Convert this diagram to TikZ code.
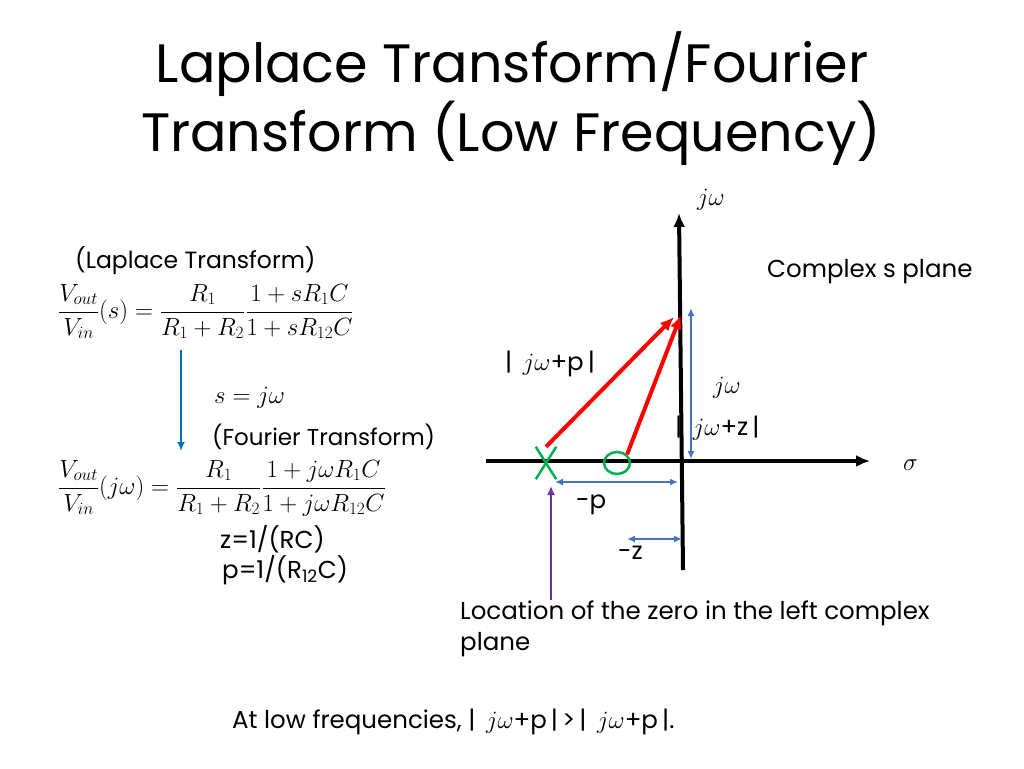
\documentclass[tikz,border=0pt]{standalone}
\usepackage{fontspec}
\setmainfont{Poppins}
\usepackage{tikz}
\usetikzlibrary{arrows.meta,positioning,calc,shapes.geometric,shapes.misc}

\definecolor{arrblue}{RGB}{0,112,192}
\definecolor{dimblue}{RGB}{68,114,196}
\definecolor{zgreen}{RGB}{0,176,80}
\definecolor{locpurple}{RGB}{112,48,160}

\tikzset{
  txt/.style={anchor=base west, inner sep=0pt, font=\fontsize{24.5}{28}\selectfont},
  eq/.style={anchor=base west, inner sep=0pt, font=\fontsize{26}{30}\selectfont},
  axis/.style={line width=4pt, -{Latex[length=14pt,width=12pt]}},
  vec/.style={line width=4pt, red, -{Latex[length=14pt,width=12pt]}},
  dim/.style={line width=1.5pt, dimblue, {Latex[length=8pt,width=7pt]}-{Latex[length=8pt,width=7pt]}},
}

\begin{document}
\begin{tikzpicture}[x=1pt, y=-1pt]
  \useasboundingbox (0,0) rectangle (1024,768);
  \node (t1) at (512,82) [anchor=base, inner sep=0pt, font=\fontsize{54}{66}\selectfont] {Laplace Transform/Fourier};
  \node (t2) at (511,151) [anchor=base, inner sep=0pt, font=\fontsize{54}{66}\selectfont] {Transform (Low Frequency)};
  % left column
  \node (lap) at (75,268) [txt, font=\fontsize{23.5}{28}\selectfont] {(Laplace Transform)};
  \node (eqs) at (58,318) [eq] {$\displaystyle \frac{V_{out}}{V_{in}}(s)=\frac{R_1}{R_1+R_2}\frac{1+sR_1C}{1+sR_{12}C}$};
  \coordinate (d1) at (181,350);
  \coordinate (d2) at (181,451);
  \draw[line width=2.5pt, arrblue, -{Latex[length=9pt,width=8pt]}] (d1) -- (d2);
  \node (sub) at (214,403) [eq] {$s=j\omega$};
  \node (fou) at (212,445) [txt, font=\fontsize{23}{28}\selectfont] {(Fourier Transform)};
  \node (eqw) at (58,494) [eq] {$\displaystyle \frac{V_{out}}{V_{in}}(j\omega)=\frac{R_1}{R_1+R_2}\frac{1+j\omega R_1C}{1+j\omega R_{12}C}$};
  \node (zz) at (220,548) [txt] {z=1/(RC)};
  \node (pp) at (222,578) [txt] {p=1/(R\textsubscript{12}C)};
  % s plane
  \coordinate (xl) at (486,461);
  \coordinate (xr) at (870,461);
  \coordinate (yb) at (683,570);
  \coordinate (yt) at (679,213);
  \draw[axis] (xl) -- (xr);
  \draw[axis] (yb) -- (yt);
  \node (jwt) at (697,205) [eq] {$j\omega$};
  \node (sig) at (903,470) [eq] {$\sigma$};
  \node (cplx) at (767,277) [txt] {Complex s plane};
  \node (pole) at (546,463) [cross out, draw=zgreen, line width=2.5pt, minimum width=18pt, minimum height=30pt, inner sep=0pt] {};
  \node (zero) at (617,463) [ellipse, draw=zgreen, line width=2.5pt, minimum width=26pt, minimum height=22pt, inner sep=0pt] {};
  \coordinate (tipp) at (674,317);
  \coordinate (tipz) at (681,315);
  \draw[vec] (pole.north) -- (tipp);
  \draw[vec] (zero.north east) -- (tipz);
  \node (lp) at (505,370) [txt] {|\, $j\omega$+p\,|};
  \coordinate (wb) at (691,459);
  \coordinate (wt) at (691,308);
  \draw[dim] (wb) -- (wt);
  \node (jw) at (713,393) [eq] {$j\omega$};
  \node (lz) at (675,435) [txt] {|\, $j\omega$+z\,|};
  \coordinate (pa) at (555,482);
  \coordinate (pb) at (678,482);
  \draw[dim] (pa) -- (pb);
  \node (mp) at (576,508) [txt] {-p};
  \coordinate (za) at (627,539);
  \coordinate (zb) at (682,539);
  \draw[dim] (za) -- (zb);
  \node (mz) at (618,559) [txt] {-z};
  \coordinate (lb) at (551,600);
  \coordinate (lt) at (551,486);
  \draw[line width=2.5pt, locpurple, -{Latex[length=9pt,width=8pt]}] (lb) -- (lt);
  \node (loc) at (460,619) [txt] {Location of the zero in the left complex};
  \node (loc2) at (460,650) [txt] {plane};
  \node (low) at (232,728) [txt] {At low frequencies, |\, $j\omega$+p\,|\,>\,|\, $j\omega$+p\,|.};
\end{tikzpicture}
\end{document}
